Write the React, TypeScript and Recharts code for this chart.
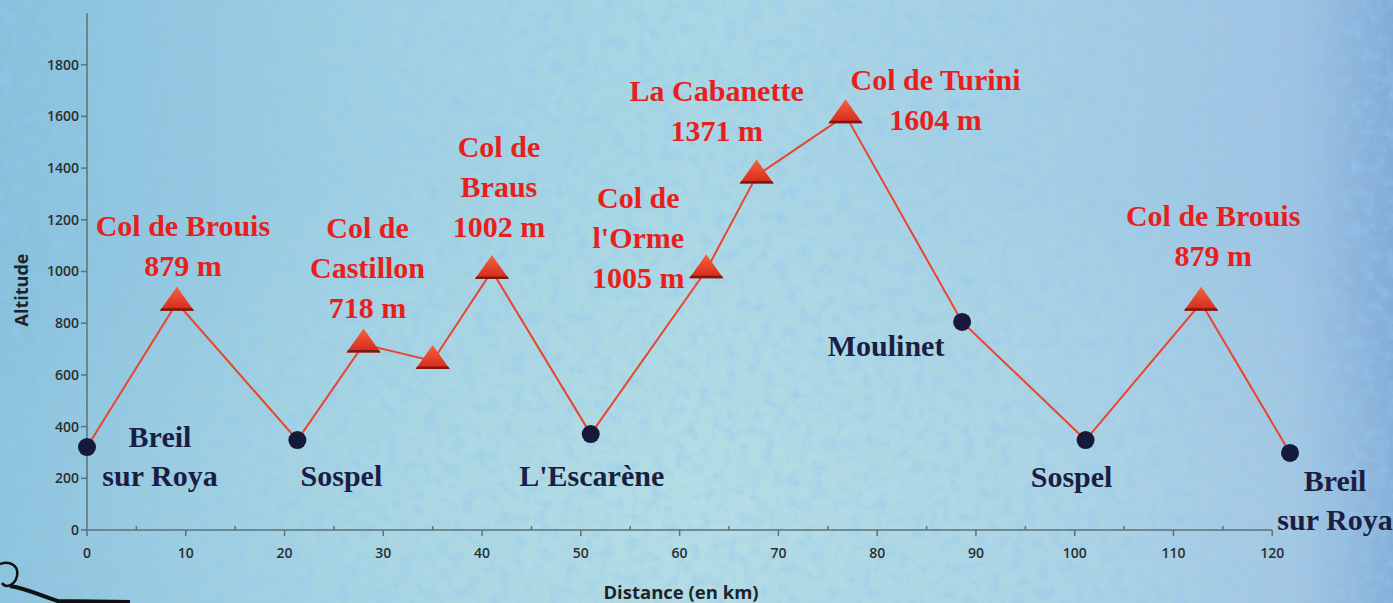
import React from 'react';
import { LineChart, Line, XAxis, YAxis, ReferenceLine } from 'recharts';

// profile points: distance (km) and altitude (m)
const distances = [0, 9.1, 21.3, 28, 35, 41, 51, 62.7, 67.8, 76.8, 88.6, 101.1, 112.8, 121.8];
const altitudes = [321, 879, 348, 718, 654, 1002, 371, 1005, 1371, 1604, 805, 348, 879, 298];
// 'town' = dark dot, 'col' = red triangle
const kinds = ['town', 'col', 'town', 'col', 'col', 'col', 'town', 'col', 'col', 'col', 'town', 'town', 'col', 'town'];
const names: string[][] = [
  ['Breil', 'sur Roya'],
  ['Col de Brouis', '879 m'],
  ['Sospel'],
  ['Col de', 'Castillon', '718 m'],
  [],
  ['Col de', 'Braus', '1002 m'],
  ["L'Escarène"],
  ['Col de', "l'Orme", '1005 m'],
  ['La Cabanette', '1371 m'],
  ['Col de Turini', '1604 m'],
  ['Moulinet'],
  ['Sospel'],
  ['Col de Brouis', '879 m'],
  ['Breil', 'sur Roya'],
];

const xTicks = [0, 5, 10, 15, 20, 25, 30, 35, 40, 45, 50, 55, 60, 65, 70, 75, 80, 85, 90, 95, 100, 105, 110, 115, 120];
const yTicks = [0, 200, 400, 600, 800, 1000, 1200, 1400, 1600, 1800];

// label placement relative to each marker (first line centre)
const labelOffsets = [
  { dx: 73, dy: -10 },
  { dx: 6, dy: -77 },
  { dx: 44, dy: 36 },
  { dx: 4, dy: -116 },
  { dx: 0, dy: 0 },
  { dx: 7, dy: -124 },
  { dx: 1, dy: 42 },
  { dx: -68, dy: -72 },
  { dx: -40, dy: -85 },
  { dx: 90, dy: -35 },
  { dx: -76, dy: 24 },
  { dx: -14, dy: 37 },
  { dx: 12, dy: -87 },
  { dx: 45, dy: 28 },
];

const data = distances.map((d, i) => ({ dist: d, alt: altitudes[i] }));

const RED = '#e8201c';
const NAVY = '#1a1e42';
const AXIS = '#5d7276';
const TICK_TEXT = '#2a2f33';

const renderDot = (props: any) => {
  const { cx, cy, index } = props;
  if (cx == null || cy == null) return <g key={`d-${index}`} />;
  const isCol = kinds[index] === 'col';
  const off = labelOffsets[index];
  const spacing = isCol ? 40 : 39;
  return (
    <g key={`d-${index}`}>
      {isCol ? (
        <g>
          <polygon
            points={`${cx},${cy - 16} ${cx - 17},${cy + 8} ${cx + 17},${cy + 8}`}
            fill="url(#triFill)"
          />
          <polygon
            points={`${cx - 17},${cy + 8} ${cx + 17},${cy + 8} ${cx + 15.5},${cy + 5.5} ${cx - 15.5},${cy + 5.5}`}
            fill="#7c1a10"
          />
        </g>
      ) : (
        <circle cx={cx} cy={cy} r={9} fill="#151a3b" />
      )}
      {names[index].map((t, i) => (
        <text
          key={i}
          x={cx + off.dx}
          y={cy + off.dy + i * spacing + 10}
          textAnchor="middle"
          fontFamily="'Liberation Serif', serif"
          fontWeight="bold"
          fontSize={30}
          fill={isCol ? RED : NAVY}
        >
          {t}
        </text>
      ))}
    </g>
  );
};

const renderXTick = (props: any) => {
  const { x, y, payload } = props;
  const v = payload.value;
  const major = v % 10 === 0;
  return (
    <g>
      {major ? (
        <>
          <line x1={x} x2={x} y1={y} y2={y + 6} stroke={AXIS} strokeWidth={1.5} />
          <text x={x} y={y + 28} textAnchor="middle" fontFamily="'Open Sans', sans-serif" fontWeight={600} fontSize={14} fill={TICK_TEXT}>
            {v}
          </text>
        </>
      ) : (
        <line x1={x} x2={x} y1={y - 4} y2={y} stroke={AXIS} strokeWidth={1.5} />
      )}
    </g>
  );
};

const Background = () => (
  <svg width={1393} height={603} style={{ position: 'absolute', left: 0, top: 0 }}>
    <defs>
      <linearGradient id="bgH" x1="0" y1="0" x2="1" y2="0">
        <stop offset="0" stopColor="#88c0dc" />
        <stop offset="0.25" stopColor="#9ecfe2" />
        <stop offset="0.5" stopColor="#aad7e4" />
        <stop offset="0.78" stopColor="#a4cde4" />
        <stop offset="0.93" stopColor="#9fc3e2" />
        <stop offset="1" stopColor="#82acd8" />
      </linearGradient>
      <radialGradient id="bgGlow" cx="0.5" cy="0.85" r="0.6">
        <stop offset="0" stopColor="#c0e3e4" stopOpacity={0.5} />
        <stop offset="1" stopColor="#c0e3e4" stopOpacity={0} />
      </radialGradient>
      <filter id="paper" x="0" y="0" width="100%" height="100%">
        <feTurbulence type="fractalNoise" baseFrequency="0.08" numOctaves={4} seed={3} />
        <feColorMatrix
          type="matrix"
          values="0 0 0 0 0.3  0 0 0 0 0.58  0 0 0 0 0.85  2.2 0 0 0 -0.95"
        />
      </filter>
    </defs>
    <rect width={1393} height={603} fill="url(#bgH)" />
    <rect width={1393} height={603} fill="url(#bgGlow)" />
    <rect width={1393} height={603} filter="url(#paper)" opacity={0.55} />
    <path d="M 0 564 C 10 560, 19 566, 17 576 C 15 585, 6 589, 2 583" fill="none" stroke="#111" strokeWidth={2.5} />
    <path d="M 10 586 C 28 589, 42 596, 58 601 L 130 602" fill="none" stroke="#111" strokeWidth={4} />
  </svg>
);

export default function App() {
  return (
    <div style={{ position: 'relative', width: 1393, height: 603, overflow: 'hidden' }}>
      <style>{`body{margin:0}`}</style>
      <Background />
      <div style={{ position: 'absolute', left: 0, top: 0 }}>
        <LineChart width={1393} height={603} data={data} margin={{ top: 13, right: 101, bottom: 0, left: 27 }}>
          <defs>
            <linearGradient id="triFill" x1="0" y1="0" x2="0" y2="1">
              <stop offset="0" stopColor="#f4643f" />
              <stop offset="1" stopColor="#d6261a" />
            </linearGradient>
          </defs>
          <XAxis
            dataKey="dist"
            type="number"
            domain={[0, 122]}
            ticks={xTicks}
            interval={0}
            axisLine={false}
            tickLine={false}
            tickSize={0}
            tickMargin={0}
            height={73}
            tick={renderXTick}
            label={{
              content: ({ viewBox }: any) => (
                <text
                  x={viewBox.x + 594}
                  y={viewBox.y + 69}
                  textAnchor="middle"
                  fontFamily="'Open Sans', sans-serif"
                  fontWeight="bold"
                  fontSize={18.5}
                  fill="#1e2326"
                >
                  Distance (en km)
                </text>
              ),
            }}
          />
          <YAxis
            type="number"
            domain={[0, 2000]}
            ticks={yTicks}
            interval={0}
            width={60}
            axisLine={{ stroke: AXIS, strokeWidth: 1.5 }}
            tickLine={{ stroke: AXIS, strokeWidth: 1.5 }}
            tickSize={6}
            tick={{ fontSize: 14, fill: TICK_TEXT, fontFamily: "'Open Sans', sans-serif", fontWeight: 600 }}
            label={{
              content: ({ viewBox }: any) => (
                <text
                  x={viewBox.x - 6}
                  y={viewBox.y + 277}
                  transform={`rotate(-90 ${viewBox.x - 6} ${viewBox.y + 277})`}
                  textAnchor="middle"
                  dominantBaseline="central"
                  fontFamily="'Open Sans', sans-serif"
                  fontWeight="bold"
                  fontSize={18}
                  fill="#1e2326"
                >
                  Altitude
                </text>
              ),
            }}
          />
          <ReferenceLine
            segment={[{ x: 0, y: 0 }, { x: 120, y: 0 }]}
            stroke={AXIS}
            strokeWidth={1.5}
            ifOverflow="visible"
          />
          <Line
            type="linear"
            dataKey="alt"
            stroke="#e9452c"
            strokeWidth={2}
            dot={renderDot}
            activeDot={false}
            isAnimationActive={false}
          />
        </LineChart>
      </div>
    </div>
  );
}
